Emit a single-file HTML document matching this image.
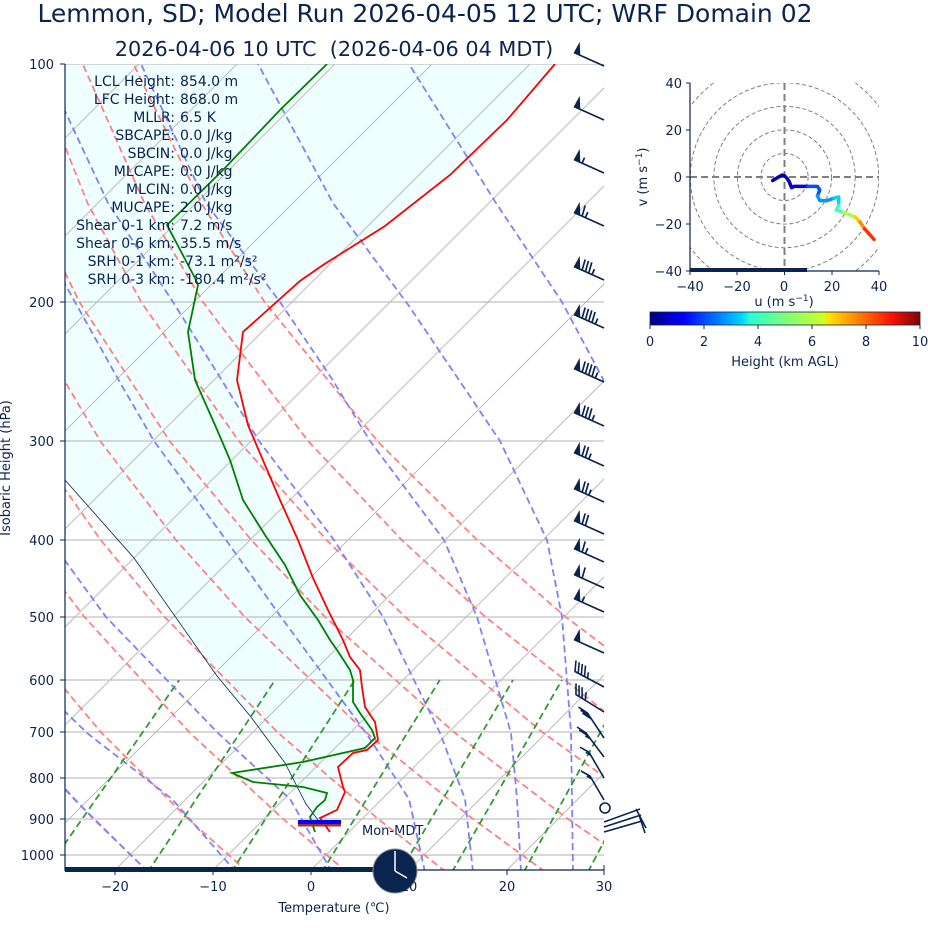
<!DOCTYPE html>
<html><head><meta charset="utf-8">
<style>
html,body{margin:0;padding:0;background:#fff;}
svg{display:block;font-family:"DejaVu Sans","Liberation Sans",sans-serif;}
</style></head>
<body>
<svg width="928" height="936" viewBox="0 0 928 936" xmlns="http://www.w3.org/2000/svg">
<defs>
<clipPath id="cp"><rect x="65" y="64" width="539" height="806"/></clipPath>
<clipPath id="hc"><rect x="690" y="83" width="189" height="188"/></clipPath>
<linearGradient id="jet" x1="0" x2="1" y1="0" y2="0">
<stop offset="0" stop-color="#00007f"/><stop offset="0.125" stop-color="#0000ff"/>
<stop offset="0.34" stop-color="#00d4ff"/><stop offset="0.37" stop-color="#29ffce"/><stop offset="0.5" stop-color="#7dff7a"/>
<stop offset="0.64" stop-color="#ceff29"/><stop offset="0.66" stop-color="#ffe600"/><stop offset="0.89" stop-color="#ff1300"/><stop offset="1" stop-color="#7f0000"/>
</linearGradient>
</defs>
<text x="425" y="22" text-anchor="middle" font-size="25" fill="#0a2450">Lemmon, SD; Model Run 2026-04-05 12 UTC; WRF Domain 02</text>
<text x="334" y="56" text-anchor="middle" font-size="20.8" fill="#0a2450" xml:space="preserve">2026-04-06 10 UTC  (2026-04-06 04 MDT)</text>

<g clip-path="url(#cp)">
<polygon fill="#effefe" points="330,832 320,818 337,810 345,792 343,787 338,767 353,753 367,750 378,740 375,722 365,707 362,687 360,670 350,657 343,640 328,610 313,578 298,540 280,500 262,458 248,425 237,380 243,332 300,281 323,265 350,248 385,226 450,175 507,120 555,64 60,64 60,478 65,480 134,558 217,676 251,717 285,763 306,804 318,820"/>
<g stroke="#b0b0b0" stroke-width="1">
<line x1="65" x2="604" y1="64" y2="64"/><line x1="65" x2="604" y1="302" y2="302"/><line x1="65" x2="604" y1="441" y2="441"/><line x1="65" x2="604" y1="540" y2="540"/><line x1="65" x2="604" y1="617" y2="617"/><line x1="65" x2="604" y1="680" y2="680"/><line x1="65" x2="604" y1="732" y2="732"/><line x1="65" x2="604" y1="778" y2="778"/><line x1="65" x2="604" y1="819" y2="819"/><line x1="65" x2="604" y1="855" y2="855"/>
</g>
<g stroke="#bdbdbd" stroke-width="1">
<line x1="-667" y1="870" x2="139" y2="64"/><line x1="-569" y1="870" x2="237" y2="64"/><line x1="-471" y1="870" x2="335" y2="64"/><line x1="-374" y1="870" x2="432" y2="64"/><line x1="-276" y1="870" x2="530" y2="64"/><line x1="-178" y1="870" x2="628" y2="64"/><line x1="-80" y1="870" x2="726" y2="64"/><line x1="18" y1="870" x2="824" y2="64"/><line x1="115" y1="870" x2="921" y2="64"/><line x1="213" y1="870" x2="1019" y2="64"/><line x1="311" y1="870" x2="1117" y2="64"/><line x1="409" y1="870" x2="1215" y2="64"/><line x1="507" y1="870" x2="1313" y2="64"/>
</g>
<g fill="none" stroke="#ff8080" stroke-width="1.8" stroke-dasharray="7,4">
<polyline points="148.3,871.8 93.2,818.8 12.9,732.5 -76,616.9 -125,540.3"/>
<polyline points="247.5,871.8 188.1,818.8 101.2,732.5 4.2,616.9 -49.7,540.3 -107.4,441.4"/>
<polyline points="346.7,871.8 283,818.8 189.5,732.5 84.4,616.9 25.6,540.3 -38.1,441.4 -105.8,302.1"/>
<polyline points="445.9,871.8 377.9,818.8 277.8,732.5 164.6,616.9 100.9,540.3 31.2,441.4 -44.1,302.1 -83.1,203.3"/>
<polyline points="545.1,871.8 472.8,818.8 366.1,732.5 244.8,616.9 176.2,540.3 100.5,441.4 17.7,302.1 -26.2,203.3 -69.3,64"/>
<polyline points="644.3,871.8 567.7,818.8 454.4,732.5 325,616.9 251.5,540.3 169.8,441.4 79.5,302.1 30.7,203.3 -18.6,64"/>
<polyline points="743.5,871.8 662.6,818.8 542.7,732.5 405.2,616.9 326.8,540.3 239.1,441.4 141.2,302.1 87.6,203.3 32.1,64"/>
<polyline points="842.7,871.8 757.5,818.8 631,732.5 485.4,616.9 402.1,540.3 308.4,441.4 203,302.1 144.5,203.3 82.7,64"/>
<polyline points="941.9,871.8 852.4,818.8 719.3,732.5 565.6,616.9 477.4,540.3 377.7,441.4 264.7,302.1 201.4,203.3 133.4,64"/>
</g>
<g fill="none" stroke="#8080ff" stroke-width="1.8" stroke-dasharray="7,4">
<polyline points="617,872 627,799 634,733 643,617 640,540 617,441 603,379 562,302 496,203 409,64"/>
<polyline points="573,872 572,799 571,732 562,617 547,540 500,441 461,383 409,306 333,203 258,64"/>
<polyline points="521,872 517,799 511,733 477,617 444,540 370,441 332,379 280,302 206,203 141,64"/>
<polyline points="473,872 465,799 440,733 383,617 334,540 259,441 221,379 173,302 108,203 43,64"/>
<polyline points="425,872 409,799 366,733 281,617 226,540 154,441 118,379 75,302 20,203"/>
<polyline points="332,872 290,799 218,733 106,617 50,540 -18,441"/>
<polyline points="236,872 172,799 87,733 -32,617"/>
<polyline points="148,872 74,799 13,733"/>
</g>
<g fill="none" stroke="#339933" stroke-width="1.8" stroke-dasharray="7,4">
<line x1="45.1" y1="872" x2="179.2" y2="680"/><line x1="147.8" y1="872" x2="275.1" y2="680"/><line x1="231.4" y1="872" x2="354.8" y2="680"/><line x1="321.9" y1="872" x2="439.8" y2="680"/><line x1="399.9" y1="872" x2="513" y2="680"/><line x1="452" y1="872" x2="561.9" y2="680"/><line x1="523.8" y1="872" x2="628.9" y2="680"/><line x1="587.9" y1="872" x2="689.2" y2="680"/>
</g>
<polyline fill="none" stroke="#0a2450" stroke-width="0.8" points="40,452 65,480 134,558 217,676 251,717 285,763 306,804 318,820"/>
<polyline fill="none" stroke="#008000" stroke-width="1.8" points="315,832 310,817 317,807 325,800 327,793 303,787 253,782 232,773 303,762 365,748 375,738 372,730 360,713 353,702 353,680 350,670 337,650 330,640 318,620 300,595 285,565 265,535 243,500 230,460 215,425 195,380 188,332 198,285 195,278 167,225 223,170 280,110 327,64"/>
<polyline fill="none" stroke="#ff0000" stroke-width="1.8" points="330,832 320,818 337,810 345,792 343,787 338,767 353,753 367,750 378,740 375,722 365,707 362,687 360,670 350,657 343,640 328,610 313,578 298,540 280,500 262,458 248,425 237,380 243,332 300,281 323,265 350,248 385,226 450,175 507,120 555,64"/>
</g>
<line x1="298" x2="341" y1="825" y2="825" stroke="#a03030" stroke-width="3"/>
<line x1="298" x2="341" y1="822" y2="822" stroke="#0000ff" stroke-width="4"/>
<g stroke="#0a2450">
<line x1="65" x2="65" y1="64" y2="871" stroke-width="1.2"/>
<line x1="65" x2="604" y1="870" y2="870" stroke-width="1.2"/>
<line x1="65" x2="380" y1="869.5" y2="869.5" stroke-width="5"/>
<line x1="60" x2="65" y1="64" y2="64"/><line x1="60" x2="65" y1="302" y2="302"/><line x1="60" x2="65" y1="441" y2="441"/><line x1="60" x2="65" y1="540" y2="540"/><line x1="60" x2="65" y1="617" y2="617"/><line x1="60" x2="65" y1="680" y2="680"/><line x1="60" x2="65" y1="732" y2="732"/><line x1="60" x2="65" y1="778" y2="778"/><line x1="60" x2="65" y1="819" y2="819"/><line x1="60" x2="65" y1="855" y2="855"/>
<line x1="115" x2="115" y1="870" y2="875"/><line x1="213" x2="213" y1="870" y2="875"/><line x1="311" x2="311" y1="870" y2="875"/><line x1="409" x2="409" y1="870" y2="875"/><line x1="507" x2="507" y1="870" y2="875"/><line x1="604" x2="604" y1="865" y2="875"/>
</g>
<circle cx="395" cy="871" r="22" fill="#0a2450" stroke="#888" stroke-width="1"/>
<line x1="395" y1="871" x2="395" y2="851" stroke="#fff" stroke-width="1.5"/>
<line x1="395" y1="871" x2="407" y2="878" stroke="#fff" stroke-width="1.5"/>

<g font-size="13" fill="#0a2450" text-anchor="end">
<text x="54" y="69">100</text><text x="54" y="307">200</text><text x="54" y="446">300</text><text x="54" y="545">400</text>
<text x="54" y="622">500</text><text x="54" y="685">600</text><text x="54" y="737">700</text><text x="54" y="783">800</text>
<text x="54" y="824">900</text><text x="54" y="860">1000</text>
</g>
<g font-size="13" fill="#0a2450" text-anchor="middle">
<text x="115" y="891">−20</text><text x="213" y="891">−10</text><text x="311" y="891">0</text><text x="409" y="891">10</text><text x="507" y="891">20</text><text x="604" y="891">30</text>
<text x="334" y="912">Temperature (℃)</text>
</g>
<text transform="translate(10,468) rotate(-90)" text-anchor="middle" font-size="13" fill="#0a2450">Isobaric Height (hPa)</text>
<g font-size="14" fill="#0a2450">
<g text-anchor="end">
<text x="175" y="86">LCL Height:</text><text x="175" y="104">LFC Height:</text><text x="175" y="122">MLLR:</text>
<text x="175" y="140">SBCAPE:</text><text x="175" y="158">SBCIN:</text><text x="175" y="176">MLCAPE:</text>
<text x="175" y="194">MLCIN:</text><text x="175" y="212">MUCAPE:</text><text x="175" y="230">Shear 0-1 km:</text>
<text x="175" y="248">Shear 0-6 km:</text><text x="175" y="266">SRH 0-1 km:</text><text x="175" y="284">SRH 0-3 km:</text>
</g>
<g text-anchor="start">
<text x="180" y="86">854.0 m</text><text x="180" y="104">868.0 m</text><text x="180" y="122">6.5 K</text>
<text x="180" y="140">0.0 J/kg</text><text x="180" y="158">0.0 J/kg</text><text x="180" y="176">0.0 J/kg</text>
<text x="180" y="194">0.0 J/kg</text><text x="180" y="212">2.0 J/kg</text><text x="180" y="230">7.2 m/s</text>
<text x="180" y="248">35.5 m/s</text><text x="180" y="266">-73.1 m²/s²</text><text x="180" y="284">-180.4 m²/s²</text>
</g>
</g>
<text x="362" y="835" font-size="13" fill="#0a2450">Mon-MDT</text>

<g stroke="#0a2450" fill="#0a2450" stroke-width="1.7">
<g transform="translate(604,66)"><path d="M0,0 L-30.1,-13.5" fill="none"/><polygon stroke="none" points="-30.1,-13.5 -23.7,-10.6 -24.3,-24.1"/></g>
<g transform="translate(604,120)"><path d="M0,0 L-30.1,-13.5" fill="none"/><polygon stroke="none" points="-30.1,-13.5 -23.7,-10.6 -24.3,-24.1"/></g>
<g transform="translate(604,173)"><path d="M0,0 L-30.1,-13.5 M-21.9,-9.8 l2.4,-5.5" fill="none"/><polygon stroke="none" points="-30.1,-13.5 -23.7,-10.6 -24.3,-24.1"/></g>
<g transform="translate(604,226)"><path d="M0,0 L-30.1,-13.5 M-21.9,-9.8 l3.1,-10.7 M-18.6,-8.4 l2.4,-5.5" fill="none"/><polygon stroke="none" points="-30.1,-13.5 -23.7,-10.6 -24.3,-24.1"/></g>
<g transform="translate(604,280)"><path d="M0,0 L-30.1,-13.5 M-21.9,-9.8 l3.1,-10.7 M-18.6,-8.4 l3.1,-10.7 M-15.3,-6.9 l3.1,-10.7 M-12,-5.4 l2.4,-5.5" fill="none"/><polygon stroke="none" points="-30.1,-13.5 -23.7,-10.6 -24.3,-24.1"/></g>
<g transform="translate(604,328)"><path d="M0,0 L-30.1,-13.5 M-21.9,-9.8 l3.1,-10.7 M-18.6,-8.4 l3.1,-10.7 M-15.3,-6.9 l3.1,-10.7 M-12,-5.4 l3.1,-10.7 M-8.7,-4 l2.4,-5.5" fill="none"/><polygon stroke="none" points="-30.1,-13.5 -23.7,-10.6 -24.3,-24.1"/></g>
<g transform="translate(604,382)"><path d="M0,0 L-30.1,-13.5 M-21.9,-9.8 l3.1,-10.7 M-18.6,-8.4 l3.1,-10.7 M-15.3,-6.9 l3.1,-10.7 M-12,-5.4 l3.1,-10.7 M-8.7,-4 l2.4,-5.5" fill="none"/><polygon stroke="none" points="-30.1,-13.5 -23.7,-10.6 -24.3,-24.1"/></g>
<g transform="translate(604,426)"><path d="M0,0 L-30.1,-13.5 M-21.9,-9.8 l3.1,-10.7 M-18.6,-8.4 l3.1,-10.7 M-15.3,-6.9 l3.1,-10.7 M-12,-5.4 l2.4,-5.5" fill="none"/><polygon stroke="none" points="-30.1,-13.5 -23.7,-10.6 -24.3,-24.1"/></g>
<g transform="translate(604,466)"><path d="M0,0 L-30.1,-13.5 M-21.9,-9.8 l3.1,-10.7 M-18.6,-8.4 l3.1,-10.7 M-15.3,-6.9 l2.4,-5.5" fill="none"/><polygon stroke="none" points="-30.1,-13.5 -23.7,-10.6 -24.3,-24.1"/></g>
<g transform="translate(604,502)"><path d="M0,0 L-30.1,-13.5 M-21.9,-9.8 l3.1,-10.7 M-18.6,-8.4 l3.1,-10.7 M-15.3,-6.9 l2.4,-5.5" fill="none"/><polygon stroke="none" points="-30.1,-13.5 -23.7,-10.6 -24.3,-24.1"/></g>
<g transform="translate(604,534)"><path d="M0,0 L-30.1,-13.5 M-21.9,-9.8 l3.1,-10.7 M-18.6,-8.4 l3.1,-10.7" fill="none"/><polygon stroke="none" points="-30.1,-13.5 -23.7,-10.6 -24.3,-24.1"/></g>
<g transform="translate(604,562)"><path d="M0,0 L-30.1,-13.5 M-21.9,-9.8 l3.1,-10.7 M-18.6,-8.4 l2.4,-5.5" fill="none"/><polygon stroke="none" points="-30.1,-13.5 -23.7,-10.6 -24.3,-24.1"/></g>
<g transform="translate(604,588)"><path d="M0,0 L-30.1,-13.5 M-21.9,-9.8 l3.1,-10.7" fill="none"/><polygon stroke="none" points="-30.1,-13.5 -23.7,-10.6 -24.3,-24.1"/></g>
<g transform="translate(604,612)"><path d="M0,0 L-30.1,-13.5 M-21.9,-9.8 l2.4,-5.5" fill="none"/><polygon stroke="none" points="-30.1,-13.5 -23.7,-10.6 -24.3,-24.1"/></g>
<g transform="translate(604,653)"><path d="M0,0 L-30.1,-13.5" fill="none"/><polygon stroke="none" points="-30.1,-13.5 -23.7,-10.6 -24.3,-24.1"/></g>
<g fill="none" stroke-width="1.6">
<path transform="translate(604,687)" d="M0,0 L-29,-15.5 l1,-11 M-25.8,-13.8 l1,-11 M-22.7,-12.1 l1,-11 M-19.5,-10.4 l1,-11 M-16.3,-8.7 l0.6,-6"/>
<path transform="translate(604,712)" d="M0,0 L-28,-17.5 l0,-11 M-24.9,-15.6 l0,-11 M-21.9,-13.7 l0,-11 M-18.8,-11.8 l1,-8"/>
<path transform="translate(604,738)" d="M0,0 L-16.5,-24.9 l-9,-6 M-14.5,-21.9 l-9,-6 M-12.5,-18.9 l-9,-6"/>
<path transform="translate(604,757)" d="M0,0 L-18,-24 l-9,-6 M-15.8,-21.1 l-9,-6 M-13.7,-18.2 l-5,-3"/>
<path transform="translate(604,778)" d="M0,0 L-15,-25.8 l-9,-5 M-13.2,-22.7 l-5,-3"/>
<path transform="translate(604,800)" d="M0,0 L-14,-24 l-9,-5 M-12.2,-20.9 l-5,-3"/>
</g>
<circle cx="605" cy="808" r="5" fill="none" stroke-width="1.6"/>
<g fill="none" stroke-width="1.6">
<line x1="604" y1="822" x2="640" y2="809"/><line x1="604" y1="827" x2="641" y2="815"/><line x1="604" y1="832" x2="642" y2="821"/>
<line x1="636" y1="809" x2="646" y2="828"/><line x1="639" y1="815" x2="645" y2="833"/>
</g>
</g>

<g clip-path="url(#hc)" fill="none">
<g stroke="#808080" stroke-width="1" stroke-dasharray="4,2.5">
<circle cx="784.5" cy="177" r="23.6"/><circle cx="784.5" cy="177" r="47.1"/><circle cx="784.5" cy="177" r="70.7"/><circle cx="784.5" cy="177" r="94.2"/><circle cx="784.5" cy="177" r="117.8"/>
</g>
<g stroke="#808080" stroke-width="2" stroke-dasharray="7,4">
<line x1="690" x2="879" y1="177" y2="177"/><line x1="784.5" x2="784.5" y1="83" y2="271"/>
</g>
<g stroke-width="3.5" stroke-linecap="round" stroke-linejoin="round">
<polyline stroke="#0000a8" points="772.7,180.5 777.4,177.7 782.1,175.1 784.5,175.8 786.9,178.2 789.2,181.7 791.6,187.6"/>
<polyline stroke="#0000f0" points="791.6,187.6 793.9,186.4 801,186.4 808,186.4"/>
<polyline stroke="#0050ff" points="808,186.4 817.5,186.4 819.8,190 817.5,195.8"/>
<polyline stroke="#0098ff" points="817.5,195.8 819.8,200.6 826.9,200.6 834,198.2"/>
<polyline stroke="#00d0ff" points="834,198.2 838.7,197 838.7,205.3"/>
<polyline stroke="#40ffb8" points="838.7,205.3 836.3,210 843.4,212.3"/>
<polyline stroke="#a8ff50" points="843.4,212.3 855.2,217"/>
<polyline stroke="#ffd000" points="855.2,217 859.9,221.8"/>
<polyline stroke="#ff8c00" points="859.9,221.8 864.6,228.8"/>
<polyline stroke="#ff3000" points="864.6,228.8 874,239.4"/>
</g>
</g>
<g stroke="#0a2450">
<line x1="690" x2="690" y1="83" y2="271" stroke-width="1.2"/>
<line x1="690" x2="879" y1="271" y2="271" stroke-width="1.2"/>
<line x1="690" x2="807" y1="270" y2="270" stroke-width="4"/>
<line x1="686" x2="690" y1="83" y2="83"/><line x1="686" x2="690" y1="130" y2="130"/><line x1="686" x2="690" y1="177" y2="177"/><line x1="686" x2="690" y1="224" y2="224"/><line x1="686" x2="690" y1="271" y2="271"/>
<line x1="690" x2="690" y1="271" y2="275"/><line x1="737" x2="737" y1="271" y2="275"/><line x1="784.5" x2="784.5" y1="271" y2="275"/><line x1="832" x2="832" y1="271" y2="275"/><line x1="879" x2="879" y1="271" y2="275"/>
<line x1="650" x2="650" y1="325" y2="329"/><line x1="704" x2="704" y1="325" y2="329"/><line x1="758" x2="758" y1="325" y2="329"/><line x1="812" x2="812" y1="325" y2="329"/><line x1="866" x2="866" y1="325" y2="329"/><line x1="920" x2="920" y1="325" y2="329"/>
</g>
<g font-size="13" fill="#0a2450">
<g text-anchor="end"><text x="682" y="88">40</text><text x="682" y="135">20</text><text x="682" y="182">0</text><text x="682" y="229">−20</text><text x="682" y="276">−40</text></g>
<g text-anchor="middle"><text x="690" y="291">−40</text><text x="737" y="291">−20</text><text x="784" y="291">0</text><text x="832" y="291">20</text><text x="879" y="291">40</text>
<text x="784" y="306">u (m s<tspan font-size="9" dy="-5">−1</tspan><tspan dy="5">)</tspan></text></g>
<text transform="translate(647,177) rotate(-90)" text-anchor="middle">v (m s<tspan font-size="9" dy="-5">−1</tspan><tspan dy="5">)</tspan></text>
<rect x="650" y="312" width="270" height="13" fill="url(#jet)" stroke="#0a2450" stroke-width="0.8"/>
<g text-anchor="middle"><text x="650" y="346">0</text><text x="704" y="346">2</text><text x="758" y="346">4</text><text x="812" y="346">6</text><text x="866" y="346">8</text><text x="920" y="346">10</text>
<text x="785" y="366">Height (km AGL)</text></g>
</g>
</svg>
</body></html>
